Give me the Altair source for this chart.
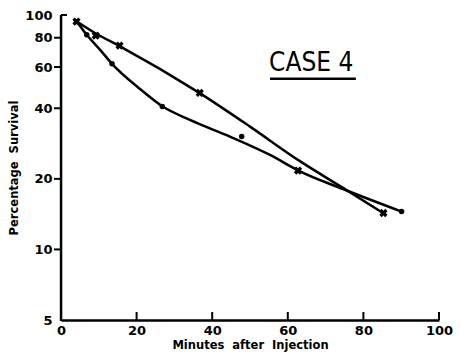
import altair as alt
import pandas as pd

# Crosses: observed points (minutes, percentage survival)
cross_x = [4.1, 9.2, 15.5, 36.7, 62.7, 85.3]
cross_y = [93.8, 81.7, 74.1, 46.5, 21.7, 14.3]
# Hand-drawn curve through the crosses
cross_curve_x = [4.2, 9.2, 15.5, 36.7, 50.0, 63.2, 74.6, 85.2]
cross_curve_y = [93.8, 83.4, 73.7, 46.4, 33.4, 23.8, 18.3, 14.3]

# Dots: observed points
dot_x = [6.8, 13.5, 26.8, 47.8, 90.1]
dot_y = [82.3, 61.9, 40.7, 30.3, 14.5]
# Hand-drawn curve through the dots
dot_curve_x = [4.2, 6.8, 10.3, 13.5, 20.8, 26.9, 34.1, 44.7, 55.3, 62.8, 74.6, 90.1]
dot_curve_y = [93.8, 82.3, 71.2, 61.9, 48.5, 40.7, 35.7, 30.3, 25.3, 21.7, 18.1, 14.5]

x_ticks = [0, 20, 40, 60, 80, 100]
y_ticks = [5, 10, 20, 40, 60, 80, 100]
y_tick_marks = [10, 20, 40, 60, 80]

# annotation
case_label = "CASE 4"
case_x = 66.2
case_y = 57.5
underline_x = [55.3, 78.0]
underline_y = 53.5

W, H = 378, 305

crosses = pd.DataFrame({"x": cross_x, "y": cross_y})
cross_curve = pd.DataFrame({"x": cross_curve_x, "y": cross_curve_y})
dots = pd.DataFrame({"x": dot_x, "y": dot_y})
dot_curve = pd.DataFrame({"x": dot_curve_x, "y": dot_curve_y})

xs = alt.Scale(domain=[0, 100], nice=False, zero=False)
ys = alt.Scale(type="log", domain=[5, 100], nice=False)

X = alt.X("x:Q", scale=xs, axis=alt.Axis(values=x_ticks, ticks=False, title="Minutes\u00a0\u00a0after\u00a0\u00a0Injection",
                                         labelPadding=4, titlePadding=2))
Y = alt.Y("y:Q", scale=ys, axis=alt.Axis(values=y_ticks, ticks=False, domain=False,
                                         title="Percentage\u00a0\u00a0Survival",
                                         labelPadding=9, titlePadding=5))

line_cross = alt.Chart(cross_curve).mark_line(color="black", strokeWidth=2.5, interpolate="monotone").encode(x=X, y=Y)
line_dot = alt.Chart(dot_curve).mark_line(color="black", strokeWidth=2.5, interpolate="monotone").encode(x=X, y=Y)
pts_cross = alt.Chart(crosses).mark_point(shape="cross", angle=45, filled=True, color="black", size=70,
                                          strokeWidth=0, opacity=1).encode(x=X, y=Y)
pts_dot = alt.Chart(dots).mark_point(shape="circle", filled=True, color="black", size=30, opacity=1).encode(x=X, y=Y)

# inward x ticks
xt = pd.DataFrame({"x": x_ticks[1:]})
xtick_rules = alt.Chart(xt).mark_rule(color="black", strokeWidth=2).encode(
    x=X, y=alt.value(H), y2=alt.value(H - 8))

# y axis line as a thin filled bar at the left edge
yaxis_bar = alt.Chart(pd.DataFrame({"k": [0]})).mark_rect(color="black", opacity=1).encode(
    x=alt.value(-1.2), x2=alt.value(1.3), y=alt.value(0), y2=alt.value(H + 1))
# outward y ticks
yt = pd.DataFrame({"y": y_tick_marks})
ytick_marks = alt.Chart(yt).mark_tick(orient="horizontal", color="black", size=7, thickness=2, opacity=1).encode(
    y=Y, x=alt.value(-3.5))
ytop = alt.Chart(pd.DataFrame({"y": [y_ticks[-1]]})).mark_tick(orient="horizontal", color="black", size=6,
                                                               thickness=2, opacity=1).encode(
    y=Y, x=alt.value(3))

label_df = pd.DataFrame({"x": [case_x], "y": [case_y], "t": [case_label]})
case_text = alt.Chart(label_df).mark_text(font="Liberation Sans Narrow, DejaVu Sans Condensed, sans-serif",
                                          fontSize=26, color="black", baseline="alphabetic",
                                          align="center").encode(x=X, y=Y, text="t:N")
ul_df = pd.DataFrame({"x": [underline_x[0]], "x2": [underline_x[1]], "y": [underline_y]})
underline = alt.Chart(ul_df).mark_rule(color="black", strokeWidth=2.5).encode(x=X, x2="x2:Q", y=Y)

chart = alt.layer(line_cross, line_dot, pts_cross, pts_dot, xtick_rules, yaxis_bar, ytick_marks, ytop,
                  case_text, underline).properties(
    width=W, height=H,
    autosize=alt.AutoSizeParams(type="none"),
    padding={"left": 61, "top": 15, "right": 21, "bottom": 34},
    background="white",
).configure_view(stroke=None).configure_axis(
    grid=False, domainColor="black", domainWidth=2.5, tickColor="black", tickWidth=2,
    labelFont="DejaVu Sans", labelFontWeight="bold", labelFontSize=13, labelColor="black", labelFlush=False,
    titleFont="DejaVu Sans", titleFontWeight="bold", titleFontSize=11.5, titleColor="black",
)

chart.save("out.html", embed_options={"renderer": "svg", "actions": False})
